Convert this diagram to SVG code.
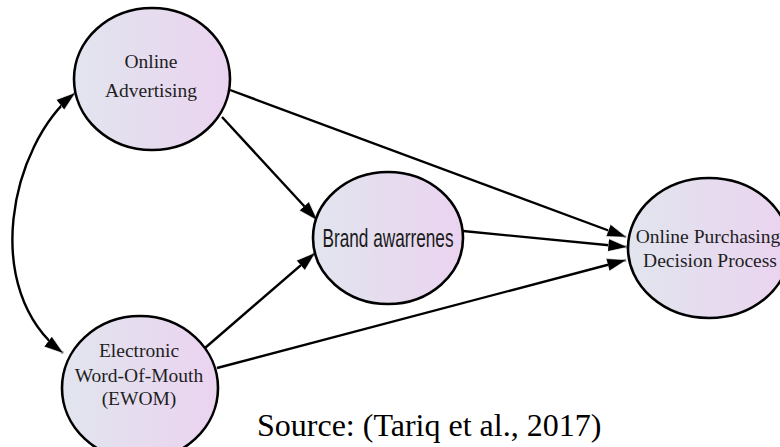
<svg xmlns="http://www.w3.org/2000/svg" width="780" height="447" viewBox="0 0 780 447">
  <defs>
    <linearGradient id="nodeFill" x1="0" y1="0" x2="1" y2="0">
      <stop offset="0" stop-color="#e1e5ee"/>
      <stop offset="1" stop-color="#ebd3f0"/>
    </linearGradient>
    <marker id="arrow" viewBox="0 0 20 13" refX="19" refY="6.5" markerWidth="20" markerHeight="13" markerUnits="userSpaceOnUse" orient="auto-start-reverse">
      <path d="M0,0 L20,6.5 L0,13 z" fill="#000" stroke="#fff" stroke-width="0.6"/>
    </marker>
    <style>
      .node ellipse { fill: url(#nodeFill); stroke: #000; stroke-width: 2.6; }
      .serif { font-family: "Liberation Serif", "Times New Roman", serif; font-size: 19.5px; fill: #1e1e1e; text-anchor: middle; }
      .sans { font-family: "Liberation Sans", Arial, sans-serif; font-size: 25px; fill: #1a1a1a; text-anchor: middle; }
      .edge { fill: none; stroke: #000; stroke-width: 2.4; marker-end: url(#arrow); }
      .source { font-family: "Liberation Serif", "Times New Roman", serif; font-size: 32px; fill: #000; }
    </style>
  </defs>

  <g id="connectors">
    <path class="edge" d="M 230 90 L 626 237"/>
    <path class="edge" d="M 222 117 L 317 220"/>
    <path class="edge" d="M 463 231 L 627 247"/>
    <path class="edge" d="M 205 348 L 315 253"/>
    <path class="edge" d="M 217 368 L 626 260"/>
    <path class="edge" d="M 75 93 C 10 145, -20 290, 63 353" style="marker-start: url(#arrow);"/>
  </g>

  <g id="online-advertising" class="node">
    <ellipse cx="152" cy="79" rx="78" ry="71"/>
    <text class="serif" x="151" y="68">Online</text>
    <text class="serif" x="151" y="97">Advertising</text>
  </g>

  <g id="ewom" class="node">
    <ellipse cx="140" cy="388" rx="78" ry="72"/>
    <text class="serif" x="139" y="357">Electronic</text>
    <text class="serif" x="139" y="382">Word-Of-Mouth</text>
    <text class="serif" x="139" y="405">(EWOM)</text>
  </g>

  <g id="brand-awareness" class="node">
    <ellipse cx="388" cy="238" rx="75" ry="66"/>
    <text class="sans" x="388" y="247" textLength="131" lengthAdjust="spacingAndGlyphs">Brand awarrenes</text>
  </g>

  <g id="online-purchasing" class="node">
    <ellipse cx="709" cy="248" rx="81" ry="70"/>
    <text class="serif" x="708" y="243" font-size="20">Online Purchasing</text>
    <text class="serif" x="710" y="267" font-size="20">Decision Process</text>
  </g>

  <text class="source" x="257" y="436">Source: (Tariq et al., 2017)</text>
</svg>
